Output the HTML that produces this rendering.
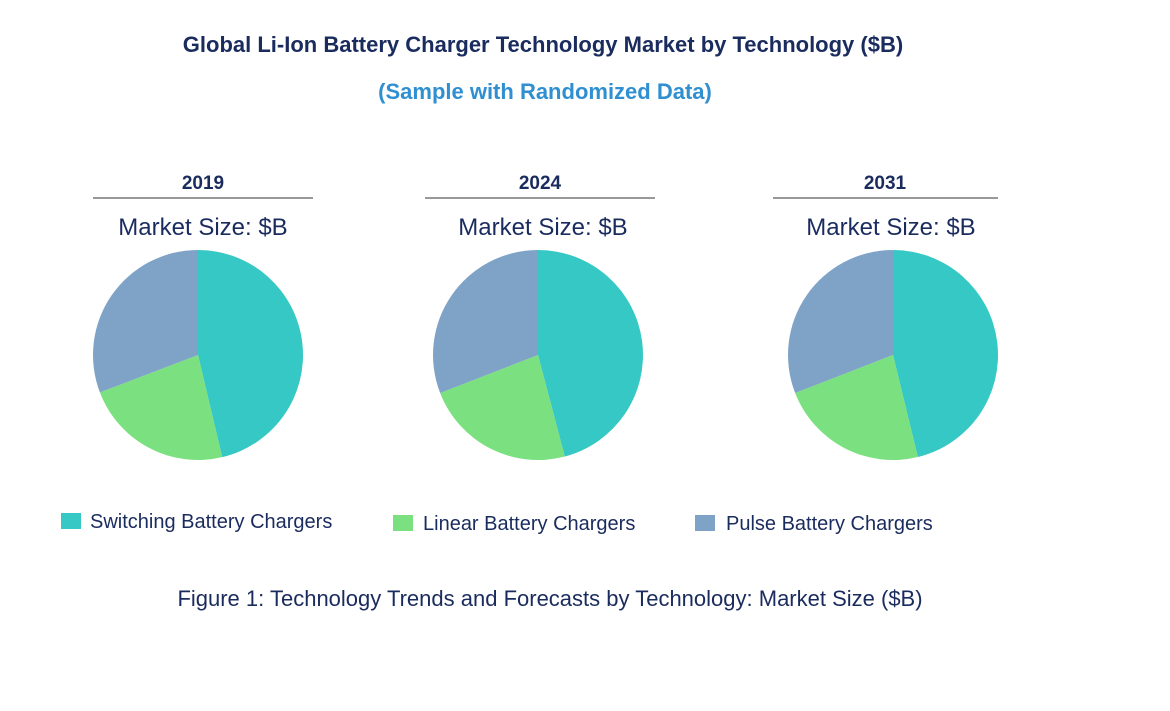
<!DOCTYPE html>
<html><head><meta charset="utf-8">
<style>
body{margin:0;background:#fff;width:1170px;height:711px;overflow:hidden;font-family:"Liberation Sans",Arial,sans-serif;}
svg{display:block}
</style></head>
<body>
<svg width="1170" height="711">
<text x="543" y="52" text-anchor="middle" font-size="22" font-weight="bold" fill="#1a2b5e">Global Li-Ion Battery Charger Technology Market by Technology ($B)</text>
<text x="545" y="99" text-anchor="middle" font-size="22" font-weight="bold" fill="#2f8fd0">(Sample with Randomized Data)</text>
<g id="pies"></g>
<g>
<rect x="61" y="513" width="20" height="16" fill="#36c8c4"/>
<text x="90" y="528" font-size="20" fill="#1a2b5e">Switching Battery Chargers</text>
<rect x="393" y="515" width="20" height="16" fill="#7be07f"/>
<text x="423" y="530" font-size="20" fill="#1a2b5e">Linear Battery Chargers</text>
<rect x="695" y="515" width="20" height="16" fill="#7fa3c7"/>
<text x="726" y="530" font-size="20" fill="#1a2b5e">Pulse Battery Chargers</text>
</g>
<text x="550" y="606" text-anchor="middle" font-size="22" fill="#1a2b5e">Figure 1: Technology Trends and Forecasts by Technology: Market Size ($B)</text>
</svg>
<script>
const years=["2019","2024","2031"];
const switching=[46.3,45.9,46.2];
const linear=[22.9,23.2,22.9];
const pulse=[30.8,30.9,30.9];
const colors=["#36c8c4","#7be07f","#7fa3c7"];
const segNames=["switching","linear","pulse"];
const layout=[{cx:198,tx:203,l1:93,l2:313,mx:203},{cx:538,tx:540,l1:425,l2:655,mx:543},{cx:893,tx:885,l1:773,l2:998,mx:891}];
const NS="http://www.w3.org/2000/svg";
const g=document.getElementById("pies");
function mk(t,a){const e=document.createElementNS(NS,t);for(const k in a)e.setAttribute(k,a[k]);g.appendChild(e);return e;}
years.forEach((y,i)=>{
 const L=layout[i],cy=355,r=105;
 let t=mk("text",{x:L.tx,y:189,"text-anchor":"middle","font-size":19,"font-weight":"bold",fill:"#1a2b5e"});t.textContent=y;
 
 
 let ln=mk("line",{x1:L.l1,x2:L.l2,y1:198,y2:198,stroke:"#333","stroke-width":1});
 
 
 let m=mk("text",{x:L.mx,y:235,"text-anchor":"middle","font-size":24,fill:"#1a2b5e"});m.textContent="Market Size: $B";
 
 
 const vals=[switching[i],linear[i],pulse[i]];
 const tot=vals.reduce((a,b)=>a+b,0);
 let a0=0;
 vals.forEach((v,j)=>{
  const a1=a0+v/tot*2*Math.PI;
  const x0=L.cx+r*Math.sin(a0),y0=cy-r*Math.cos(a0),x1=L.cx+r*Math.sin(a1),y1=cy-r*Math.cos(a1);
  const p=mk("path",{d:`M${L.cx},${cy}L${x0},${y0}A${r},${r} 0 ${a1-a0>Math.PI?1:0} 1 ${x1},${y1}Z`,fill:colors[j]});
  
  
  a0=a1;
 });
});
</script>
</body></html>
